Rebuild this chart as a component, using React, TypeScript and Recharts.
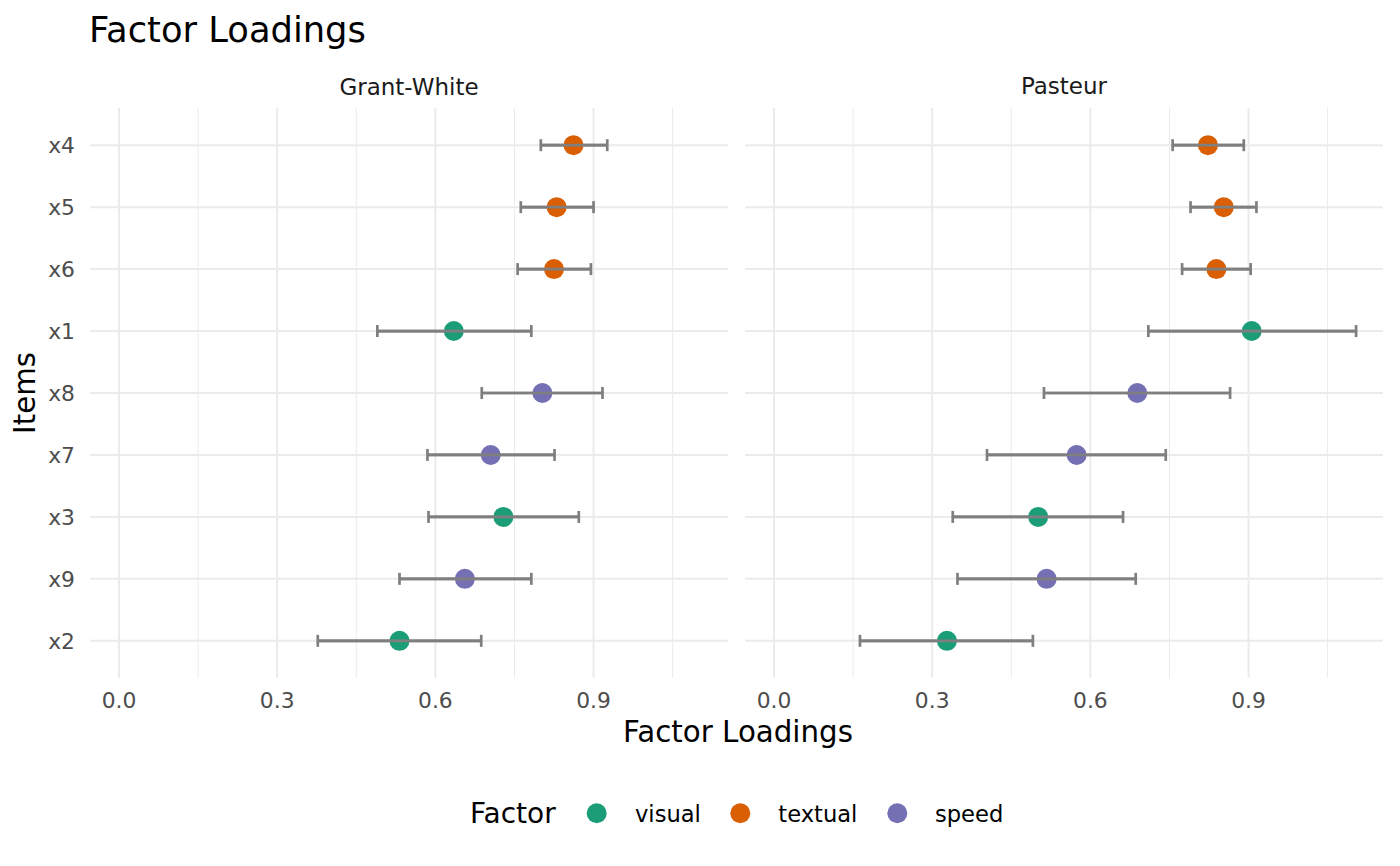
import React from 'react';
import { ScatterChart, Scatter, XAxis, YAxis, ErrorBar, ReferenceLine } from 'recharts';

// items from top to bottom, as in the plot
const items = ['x4', 'x5', 'x6', 'x1', 'x8', 'x7', 'x3', 'x9', 'x2'];
const itemFactor = ['textual', 'textual', 'textual', 'visual', 'speed', 'speed', 'visual', 'speed', 'visual'];
const factors = ['visual', 'textual', 'speed'];
const factorColors = ['#1B9E77', '#D95F02', '#7570B3'];
const groups = ['Grant-White', 'Pasteur'];

const gwEst = [0.862, 0.830, 0.825, 0.635, 0.803, 0.705, 0.729, 0.656, 0.532];
const gwLo = [0.800, 0.762, 0.756, 0.490, 0.688, 0.585, 0.587, 0.532, 0.377];
const gwHi = [0.926, 0.900, 0.895, 0.782, 0.917, 0.826, 0.872, 0.782, 0.687];

const paEst = [0.823, 0.853, 0.839, 0.906, 0.689, 0.574, 0.501, 0.517, 0.328];
const paLo = [0.756, 0.790, 0.774, 0.710, 0.512, 0.404, 0.339, 0.348, 0.163];
const paHi = [0.891, 0.915, 0.904, 1.104, 0.865, 0.743, 0.662, 0.686, 0.491];

const xTicks = [0, 0.3, 0.6, 0.9];
const xMinor = [0.15, 0.45, 0.75, 1.05];

const FONT = '"DejaVu Sans", sans-serif';
const GRID = '#EBEBEB';
const BAR = '#7F7F7F';

function buildRows(est: number[], lo: number[], hi: number[]) {
  return items.map((item, i) => ({
    item,
    pos: items.length - 1 - i,
    factor: itemFactor[i],
    est: est[i],
    lo: lo[i],
    hi: hi[i],
    err: [est[i] - lo[i], hi[i] - est[i]],
  }));
}

const panels = [buildRows(gwEst, gwLo, gwHi), buildRows(paEst, paLo, paHi)];
const yTicks = items.map((_, i) => i);

function Dot(props: any) {
  const { cx, cy, fill } = props;
  if (cx == null || cy == null) return <g />;
  return <circle cx={cx} cy={cy} r={10} fill={fill} />;
}

function Panel({ rows, showY, left, width }: { rows: any[]; showY: boolean; left: number; width: number }) {
  return (
    <div style={{ position: 'absolute', left, top: 0 }}>
      <ScatterChart width={width} height={718} margin={{ top: 108, right: 17, left: 0, bottom: 0 }}>
        {xMinor.map((v) => (
          <ReferenceLine key={'m' + v} x={v} stroke={GRID} strokeWidth={1} />
        ))}
        {xTicks.map((v) => (
          <ReferenceLine key={'x' + v} x={v} stroke={GRID} strokeWidth={2} />
        ))}
        {yTicks.map((v) => (
          <ReferenceLine key={'y' + v} y={v} stroke={GRID} strokeWidth={2} />
        ))}
        <XAxis
          type="number"
          dataKey="est"
          domain={[-0.055, 1.155]}
          allowDataOverflow
          ticks={xTicks}
          interval={0}
          tickFormatter={(v) => Number(v).toFixed(1)}
          axisLine={false}
          tickLine={false}
          tickSize={6}
          tickMargin={9}
          height={40}
          tick={{ fontSize: 21.8, fill: '#4D4D4D', fontFamily: FONT }}
        />
        <YAxis
          type="number"
          dataKey="pos"
          domain={[-0.6, 8.6]}
          allowDataOverflow
          ticks={yTicks}
          interval={0}
          tickFormatter={(v) => items[items.length - 1 - Number(v)]}
          hide={!showY}
          width={showY ? 90 : 0}
          axisLine={false}
          tickLine={false}
          tickSize={6}
          tickMargin={9}
          tick={{ fontSize: 21.8, fill: '#4D4D4D', fontFamily: FONT }}
        />
        {factors.map((f, k) => (
          <Scatter
            key={f}
            data={rows.filter((r) => r.factor === f)}
            fill={factorColors[k]}
            shape={<Dot />}
            isAnimationActive={false}
          />
        ))}
        {/* caps */}
        <Scatter data={rows} shape={() => <g />} isAnimationActive={false}>
          <ErrorBar dataKey="err" direction="x" width={6} stroke={BAR} strokeWidth={2.7} />
        </Scatter>
        {/* interval segments drawn over the points */}
        {rows.map((r) => (
          <Scatter
            key={'seg' + r.item}
            data={[{ est: r.lo, pos: r.pos }, { est: r.hi, pos: r.pos }]}
            line={{ stroke: BAR, strokeWidth: 2.7 }}
            shape={() => <g />}
            isAnimationActive={false}
          />
        ))}
      </ScatterChart>
    </div>
  );
}

const legendCircleX = [596.7, 740.3, 897.3];
const legendLabelX = [635, 778.3, 935];

export default function App() {
  return (
    <div style={{ position: 'absolute', left: 0, top: 0, width: 1400, height: 866, background: '#fff', fontFamily: FONT }}>
      <Panel rows={panels[0]} showY left={0} width={745} />
      <Panel rows={panels[1]} showY={false} left={745} width={655} />
      <svg width={1400} height={866} style={{ position: 'absolute', left: 0, top: 0, pointerEvents: 'none' }} fontFamily={FONT}>
        <text x={89} y={41.7} fontSize={35.3} fill="#000">Factor Loadings</text>
        <text x={409} y={95} fontSize={23} fill="#1A1A1A" textAnchor="middle">{groups[0]}</text>
        <text x={1064} y={94} fontSize={23} fill="#1A1A1A" textAnchor="middle">{groups[1]}</text>
        <text x={738} y={741.7} fontSize={29.3} fill="#000" textAnchor="middle">Factor Loadings</text>
        <text transform="translate(35,393) rotate(-90)" fontSize={29.3} fill="#000" textAnchor="middle">Items</text>
        <text x={470} y={823} fontSize={28} fill="#000">Factor</text>
        {factors.map((f, k) => (
          <g key={f}>
            <circle cx={legendCircleX[k]} cy={813.3} r={10} fill={factorColors[k]} />
            <text x={legendLabelX[k]} y={821.7} fontSize={22.6} fill="#000">{f}</text>
          </g>
        ))}
      </svg>
    </div>
  );
}
